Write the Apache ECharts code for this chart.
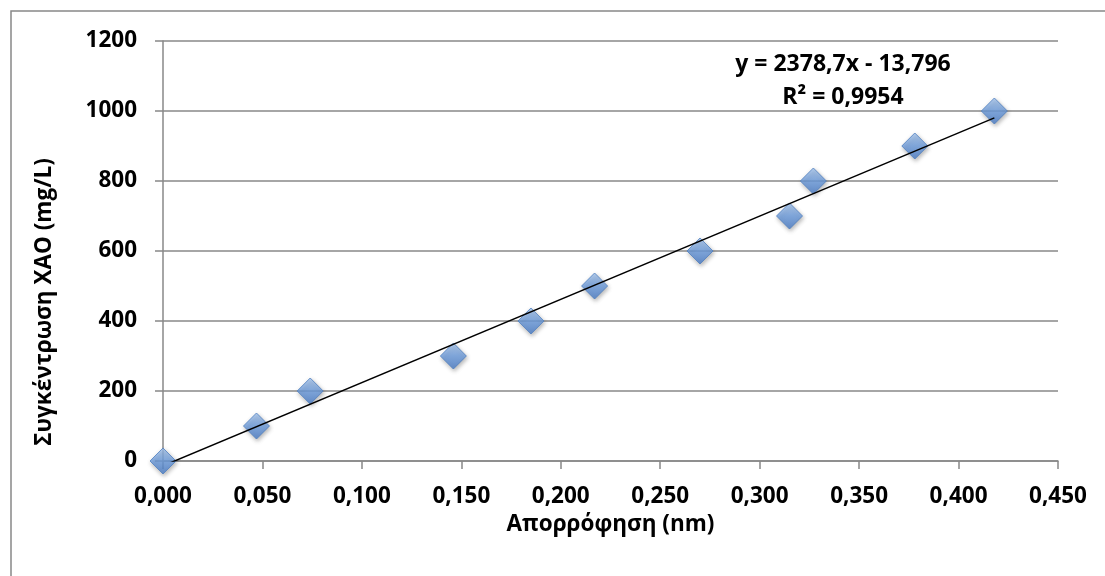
<!DOCTYPE html>
<html>
<head>
<meta charset="utf-8">
<script src="https://cdn.jsdelivr.net/npm/echarts@6/dist/echarts.min.js"></script>
<style>
  html, body { margin: 0; padding: 0; background: #fff; }
  #chart { width: 1105px; height: 576px; }
</style>
</head>
<body>
<div id="chart"></div>
<script>
// absorbance (x) vs concentration (y)
var absorbance = [0.000, 0.047, 0.074, 0.146, 0.185, 0.217, 0.270, 0.315, 0.327, 0.378, 0.418];
var concentration = [0, 100, 200, 300, 400, 500, 600, 700, 800, 900, 1000];
var slope = 2378.7;
var intercept = -13.796;
var trendText = ['y = 2378,7x - 13,796', 'R² = 0,9954'];
var xTitle = 'Απορρόφηση (nm)';
var yTitle = 'Συγκέντρωση ΧΑΟ (mg/L)';

var points = [];
for (var i = 0; i < absorbance.length; i++) {
  points.push([absorbance[i], concentration[i]]);
}
var xMax = absorbance[absorbance.length - 1];
var trend = [[0, intercept], [xMax, slope * xMax + intercept]];

var font = '"Open Sans", "DejaVu Sans", sans-serif';
var myChart = echarts.init(document.getElementById('chart'));
var option = {
  backgroundColor: '#fff',
  animation: false,
  grid: { left: 163, right: 47, top: 41, bottom: 115 },
  xAxis: {
    type: 'value',
    min: 0, max: 0.45, interval: 0.05,
    name: xTitle,
    nameLocation: 'middle',
    nameGap: 48,
    nameTextStyle: { fontFamily: font, fontWeight: 'bold', fontSize: 22.5, color: '#000' },
    axisLine: { show: true, lineStyle: { color: '#888', width: 1.5 } },
    axisTick: { show: true, length: 8, lineStyle: { color: '#888', width: 1.5 } },
    axisLabel: {
      fontFamily: font, fontWeight: 'bold', fontSize: 22.5, color: '#000', margin: 24,
      formatter: function (v) { return v.toFixed(3).replace('.', ','); }
    },
    splitLine: { show: false }
  },
  yAxis: {
    type: 'value',
    min: 0, max: 1200, interval: 200,
    axisLine: { show: true, lineStyle: { color: '#888', width: 1.5 } },
    axisTick: { show: true, length: 8, lineStyle: { color: '#888', width: 1.5 } },
    axisLabel: {
      fontFamily: font, fontWeight: 'bold', fontSize: 22.5, color: '#000', margin: 26,
      formatter: function (v) { return String(v); }
    },
    splitLine: { show: true, lineStyle: { color: '#888', width: 1.5 } }
  },
  graphic: [
    {
      type: 'rect', z: -1, silent: true,
      shape: { x: 11, y: 11, width: 1200, height: 700 },
      style: { fill: 'none', stroke: '#888', lineWidth: 1.5 }
    },
    {
      type: 'text', x: 45, y: 302, rotation: Math.PI / 2,
      style: { text: yTitle, font: 'bold 22.5px ' + font, fill: '#000', align: 'center', verticalAlign: 'middle' }
    },
    {
      type: 'text', x: 843, y: 64,
      style: { text: trendText[0], font: 'bold 23px ' + font, fill: '#000', align: 'center', verticalAlign: 'middle' }
    },
    {
      type: 'text', x: 843, y: 97,
      style: { text: trendText[1], font: 'bold 23px ' + font, fill: '#000', align: 'center', verticalAlign: 'middle' }
    }
  ],
  series: [
    {
      type: 'line',
      data: trend,
      showSymbol: false,
      clip: true,
      lineStyle: { color: '#000', width: 1.5 },
      z: 3
    },
    {
      type: 'scatter',
      data: points,
      symbol: 'diamond',
      symbolSize: [26, 26],
      itemStyle: {
        color: new echarts.graphic.LinearGradient(0, 0, 0, 1, [
          { offset: 0, color: '#a9c8f0' },
          { offset: 0.5, color: '#6f9fe0' },
          { offset: 1, color: '#4a7dc9' }
        ]),
        borderColor: '#4f7fc0',
        borderWidth: 1,
        shadowBlur: 4,
        shadowOffsetX: 1,
        shadowOffsetY: 2,
        shadowColor: 'rgba(0,0,0,0.35)'
      },
      z: 2
    }
  ]
};
myChart.setOption(option);
window.addEventListener('resize', function () {
  myChart.resize();
});
</script>
</body>
</html>
